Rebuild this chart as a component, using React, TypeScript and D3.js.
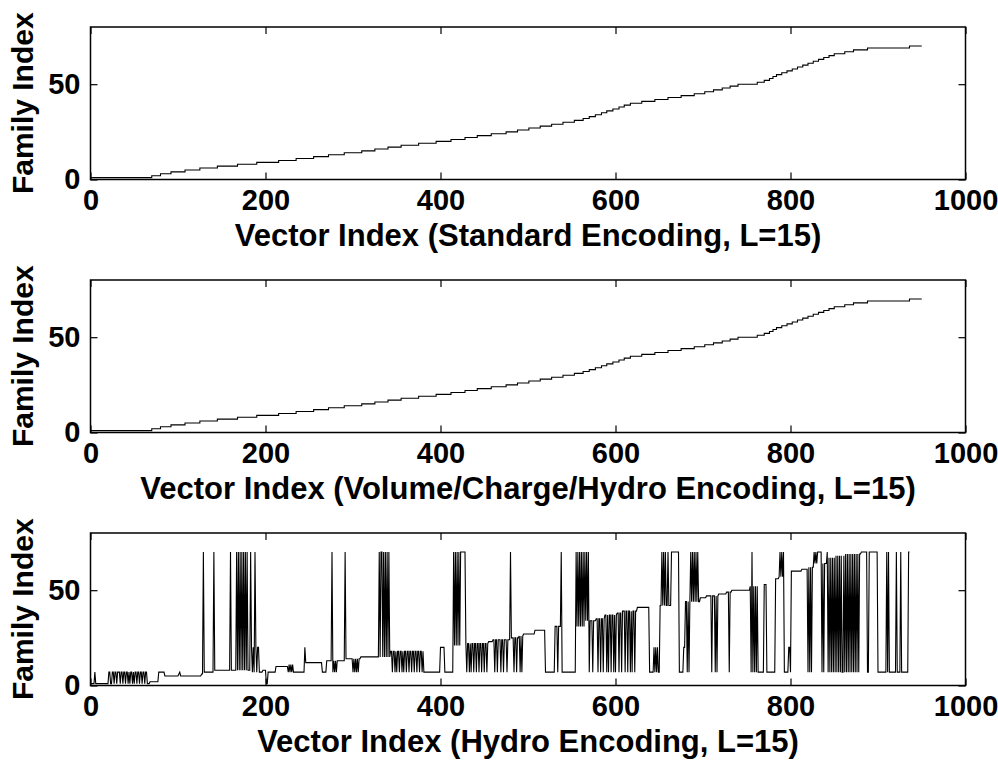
import React, { useEffect, useRef } from "react";
import * as d3 from "d3";

// first vector index of each family (family 1..70) for the sorted encodings
const standardStarts = [
  0, 70, 80, 92, 108, 125, 145, 168, 190, 215,
  235, 255, 272, 290, 310, 325, 340, 355, 375, 395,
  412, 428, 442, 458, 475, 488, 501, 514, 527, 540,
  553, 563, 570, 577, 584, 590, 597, 604, 610, 617,
  630, 645, 660, 675, 690, 702, 712, 722, 731, 740,
  762, 770, 776, 780, 784, 790, 796, 802, 808, 814,
  820, 826, 832, 838, 844, 850, 862, 872, 888, 936,
];
const volumeStarts = [
  0, 70, 80, 92, 108, 125, 145, 168, 190, 215,
  235, 255, 272, 290, 310, 325, 340, 355, 375, 395,
  412, 428, 442, 458, 475, 488, 501, 514, 527, 540,
  553, 563, 570, 577, 584, 590, 597, 604, 610, 617,
  630, 645, 660, 675, 690, 702, 712, 722, 731, 740,
  762, 770, 776, 780, 784, 790, 796, 802, 808, 814,
  820, 826, 832, 838, 844, 850, 862, 872, 888, 936,
];
const lastVector = 950;

// hydro encoding: base level [start, family], then blocks, dips to 7, peaks to 70
const hydroLevels = [
  [0, 1], [68, 2], [78, 7], [85, 5], [101, 6], [103, 5], [127, 6], [130, 7], [142, 8],
  [184, 20], [193, 7], [197, 8], [201, 1], [203, 7], [212, 10], [226, 7], [245, 20],
  [246, 12], [265, 7], [270, 13], [291, 14], [309, 15], [343, 18], [381, 7], [400, 20],
  [405, 7], [415, 21], [428, 22], [455, 23], [460, 24], [481, 25], [490, 26], [495, 27],
  [508, 29], [520, 7], [555, 31], [566, 34], [578, 35], [588, 37], [602, 38], [608, 39],
  [625, 41], [639, 7], [644, 20], [649, 7], [651, 42], [673, 7], [678, 20], [680, 44],
  [697, 46], [704, 47], [718, 48], [727, 49], [733, 50], [754, 52], [763, 7], [770, 53],
  [773, 7], [783, 56], [787, 57], [793, 7], [798, 20], [800, 7], [801, 60], [813, 61],
  [820, 62], [828, 64], [842, 67], [852, 68], [863, 69], [881, 70], [888, 7], [890, 70],
  [900, 7],
];
const hydroBlocks = [
  [5, 5, 7], [21, 22, 7], [25, 26, 7], [28, 29, 7], [31, 33, 7], [35, 36, 7], [38, 39, 7],
  [41, 42, 7], [44, 44, 7], [46, 47, 7], [49, 49, 7], [51, 52, 7], [54, 55, 7], [57, 58, 7],
  [60, 61, 7], [63, 64, 7], [102, 102, 7], [227, 227, 11], [229, 229, 11], [231, 231, 11],
  [400, 404, 20], [423, 428, 70], [531, 533, 31], [535, 537, 31], [664, 672, 70],
  [832, 835, 70],
];
const hydroDips = [
  185, 187, 190, 277, 279, 281, 300, 302, 304, 306,
  345, 348, 350, 353, 356, 358, 361, 364, 367, 370, 373, 376, 379,
  430, 433, 435, 438, 441, 444, 447, 450, 453, 462, 465, 469, 472, 476, 484, 487, 491, 493,
  570, 574, 580, 583, 586, 590, 592, 595, 598, 600, 604, 607, 611, 614, 617, 619, 622,
  645, 647, 682, 684, 710, 714, 716, 730, 755, 757, 759, 761, 820, 822, 824, 836, 838,
  843, 845, 847, 849, 851, 853, 855, 857, 859, 860, 862, 864, 866, 868, 870, 872, 874,
  876, 878,
];
const hydroPeaks = [
  129, 141, 160, 167, 169, 171, 173, 175, 177, 179, 183, 188, 276, 291,
  330, 332, 333, 335, 337, 339, 341, 415, 417, 419, 421, 480, 538,
  555, 557, 559, 561, 563, 565, 567, 569, 653, 655, 657, 660,
  686, 688, 690, 692, 694, 756, 788, 790, 792, 827, 829, 831, 842,
  910, 912, 921, 926, 935, 936,
];
const hydroLast = 936;

const xTicks = [0, 200, 400, 600, 800, 1000];
const yTicks = [0, 50];
const xTitles = [
  "Vector Index (Standard Encoding, L=15)",
  "Vector Index (Volume/Charge/Hydro Encoding, L=15)",
  "Vector Index (Hydro Encoding, L=15)",
];
const yTitle = "Family Index";

const sizes = { width: 998, height: 760 };
const margin = { left: 90.5, right: 32.5 };
const panelTops = [27, 280, 533];
const panelHeight = 152.5;
const font = '"Liberation Sans", Arial, Helvetica, sans-serif';

function stairPoints(starts) {
  const pts = starts.map((s, i) => [s, i + 1]);
  pts.push([lastVector, starts.length]);
  return pts;
}

function hydroPoints() {
  const vals = [];
  let li = 0;
  for (let i = 0; i <= hydroLast; i++) {
    while (li + 1 < hydroLevels.length && hydroLevels[li + 1][0] <= i) li++;
    vals.push(hydroLevels[li][1]);
  }
  hydroBlocks.forEach(([a, b, v]) => {
    for (let i = a; i <= b; i++) vals[i] = v;
  });
  hydroDips.forEach((i) => (vals[i] = 7));
  hydroPeaks.forEach((i) => (vals[i] = 70));
  return vals.map((v, i) => [i, v]);
}

export default function App() {
  const ref = useRef(null);

  useEffect(() => {
    const svg = d3.select(ref.current);
    svg.selectAll("*").remove();

    const x = d3.scaleLinear().domain([0, 1000]).range([margin.left, sizes.width - margin.right]);

    const panels = [
      { points: stairPoints(standardStarts), curve: d3.curveStepAfter },
      { points: stairPoints(volumeStarts), curve: d3.curveStepAfter },
      { points: hydroPoints(), curve: d3.curveLinear },
    ];

    panels.forEach((p, k) => {
      const top = panelTops[k];
      const bottom = top + panelHeight;
      const y = d3.scaleLinear().domain([0, 80]).range([bottom, top]);
      const g = svg.append("g");

      g.append("path")
        .datum(p.points)
        .attr("fill", "none")
        .attr("stroke", "black")
        .attr("stroke-width", 1.1)
        .attr("d", d3.line().x((d) => x(d[0])).y((d) => y(d[1])).curve(p.curve));

      // inward ticks on all four sides
      const axes = [
        [d3.axisBottom(x).tickValues(xTicks), `translate(0,${bottom})`, true],
        [d3.axisTop(x).tickValues(xTicks), `translate(0,${top})`, false],
        [d3.axisLeft(y).tickValues(yTicks), `translate(${margin.left},0)`, true],
        [d3.axisRight(y).tickValues(yTicks), `translate(${sizes.width - margin.right},0)`, false],
      ];
      axes.forEach(([axis, tr, labels]) => {
        const a = g.append("g")
          .attr("transform", tr)
          .call(axis.tickSizeInner(-7).tickSizeOuter(0).tickPadding(10)
            .tickFormat(labels ? d3.format("d") : () => ""));
        a.select(".domain").remove();
        a.selectAll("line").attr("stroke", "black").attr("stroke-width", 1.2);
        a.selectAll("text")
          .attr("font-family", font)
          .attr("font-size", 29)
          .attr("font-weight", "bold")
          .attr("fill", "black");
      });

      g.append("rect")
        .attr("x", margin.left)
        .attr("y", top)
        .attr("width", sizes.width - margin.right - margin.left)
        .attr("height", panelHeight)
        .attr("fill", "none")
        .attr("stroke", "black")
        .attr("stroke-width", 1.5);

      g.append("text")
        .attr("x", (margin.left + sizes.width - margin.right) / 2)
        .attr("y", bottom + 66)
        .attr("text-anchor", "middle")
        .attr("font-family", font)
        .attr("font-size", 31)
        .attr("font-weight", "bold")
        .text(xTitles[k]);

      g.append("text")
        .attr("transform", `translate(33,${(top + bottom) / 2}) rotate(-90)`)
        .attr("text-anchor", "middle")
        .attr("font-family", font)
        .attr("font-size", 30)
        .attr("font-weight", "bold")
        .text(yTitle);
    });
  }, []);

  return (
    <svg
      ref={ref}
      width={sizes.width}
      height={sizes.height}
      style={{ position: "absolute", left: 0, top: 0, background: "white" }}
    />
  );
}
